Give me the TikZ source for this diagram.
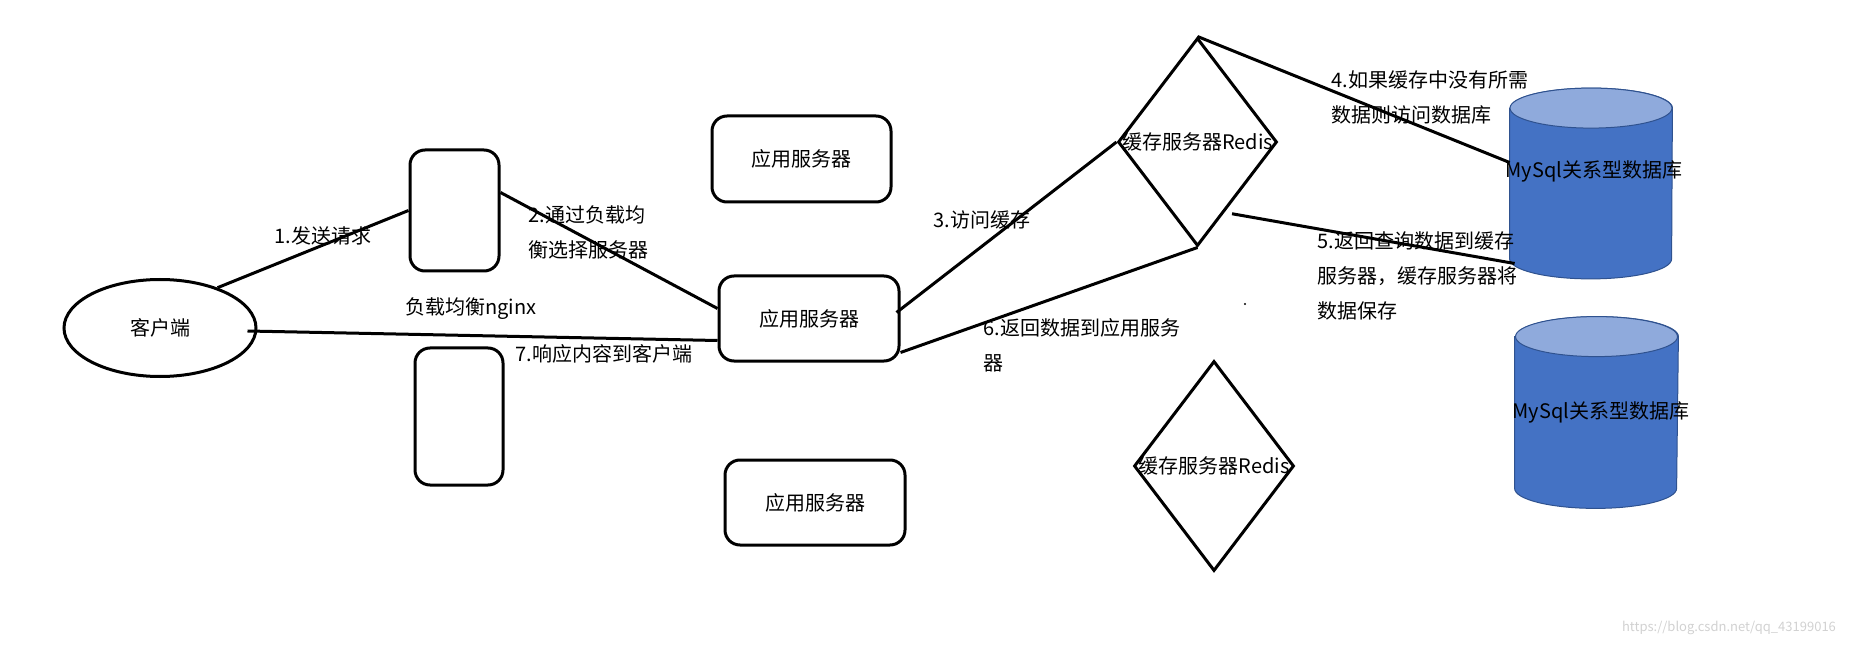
\documentclass[tikz,border=0pt]{standalone}
\usepackage{fontspec}
\setmainfont{Noto Sans CJK SC}
\usepackage{xcolor}
\usepackage{tikz}
\usetikzlibrary{shapes.geometric, positioning}

\definecolor{dbbody}{HTML}{4472C4}
\definecolor{dbtop}{HTML}{8FAADC}
\definecolor{dbline}{HTML}{2F528F}

% 圆柱体(数据库): #1 节点名
\newcommand{\dbcyl}[1]{%
  \filldraw[fill=dbbody, draw=dbline, line width=0.5pt]
    ([yshift=-10pt]#1.north west) -- ([yshift=10pt]#1.south west)
    arc[start angle=180, end angle=360, x radius=40.5pt, y radius=10pt]
    -- ([yshift=-10pt]#1.north east)
    arc[start angle=0, end angle=180, x radius=40.5pt, y radius=10pt] -- cycle;
  \filldraw[fill=dbtop, draw=dbline, line width=0.5pt]
    ([yshift=-10pt]#1.north) ellipse[x radius=40.5pt, y radius=10pt];
}

\begin{document}
\begin{tikzpicture}[
    x=0.5pt, y=-0.5pt,
    every node/.style = {font=\fontsize{10}{17.5}\selectfont, inner sep=0pt},
    box/.style = {draw, line width=1.5pt, rounded corners=7.5pt},
    lbl/.style = {anchor=west, align=left},
    redis/.style = {draw, diamond, line width=1.5pt, minimum width=79.5pt, minimum height=104pt},
    db/.style = {minimum width=81pt, minimum height=95pt},
    conn/.style = {line width=1.5pt}
  ]
    \useasboundingbox (0,0) rectangle (1861,646);

    % 客户端与负载均衡
    \node[draw, ellipse, line width=1.5pt, minimum width=96pt, minimum height=48.5pt] (client) at (160,328) {客户端};
    \node[box, minimum width=44.5pt, minimum height=60.5pt] (nginxA) at (454.5,210.5) {};
    \node[box, minimum width=44pt, minimum height=68.5pt] (nginxB) at (459,416.5) {};
    \node (nginx) at (471,309) {负载均衡nginx};

    % 应用服务器
    \node[box, minimum width=89.5pt, minimum height=43pt] (appT) at (801.5,159) {应用服务器};
    \node[box, minimum width=90pt, minimum height=42.5pt] (appM) at (809,318.5) {应用服务器};
    \node[box, minimum width=90pt, minimum height=42.5pt] (appB) at (815,502.5) {应用服务器};

    % 缓存服务器
    \node[redis, label={center:缓存服务器Redis}] (redisA) at (1197.5,142) {};
    \node[redis, minimum width=80pt, minimum height=105pt, label={center:缓存服务器Redis}] (redisB) at (1214,466) {};

    % 数据库
    \node[db] (dbA) at (1591,183.5) {};
    \node[db, minimum width=81.5pt, minimum height=95.5pt] (dbB) at (1596.5,412.5) {};
    \dbcyl{dbA}
    \dbcyl{dbB}
    \node (dbAtext) at (1594,171) {MySql关系型数据库};
    \node (dbBtext) at (1601,412) {MySql关系型数据库};

    % 连线
    \draw[conn] (client.35) -- (nginxA.west);
    \draw[conn] ([yshift=9pt]nginxA.east) -- ([yshift=5pt]appM.west);
    \draw[conn] ([xshift=-5pt,yshift=-1.5pt]client.east) -- ([yshift=-11pt]appM.west);
    \draw[conn] ([xshift=-2pt,yshift=3pt]appM.east) -- (redisA.west);
    \draw[conn] (redisA.south) -- ([yshift=-17pt]appM.east);
    \draw[conn] (redisA.north) -- ([yshift=10.5pt]dbA.west);
    \draw[conn] ([shift={(-3pt,-9.5pt)}]redisA.south east) -- ([xshift=2.5pt,yshift=-40pt]dbA.west);

    % 步骤说明
    \node[lbl] (s1) at (274,236) {1.发送请求};
    \node[lbl] (s2) at (528,232.5) {2.通过负载均\\衡选择服务器};
    \node[lbl] (s3) at (933,220) {3.访问缓存};
    \node[lbl] (s4) at (1331,97) {4.如果缓存中没有所需\\数据则访问数据库};
    \node[lbl] (s5) at (1317,276) {5.返回查询数据到缓存\\服务器，缓存服务器将\\数据保存};
    \node[lbl] (s6) at (983,345.5) {6.返回数据到应用服务\\器};
    \node[lbl] (s7) at (515,354) {7.响应内容到客户端};

    \fill (1245,304) circle (0.6pt);
    \node[font=\fontsize{6.5}{8}\selectfont, text=black!18] (mark) at (1729,628) {https://blog.csdn.net/qq\_43199016};
\end{tikzpicture}
\end{document}
